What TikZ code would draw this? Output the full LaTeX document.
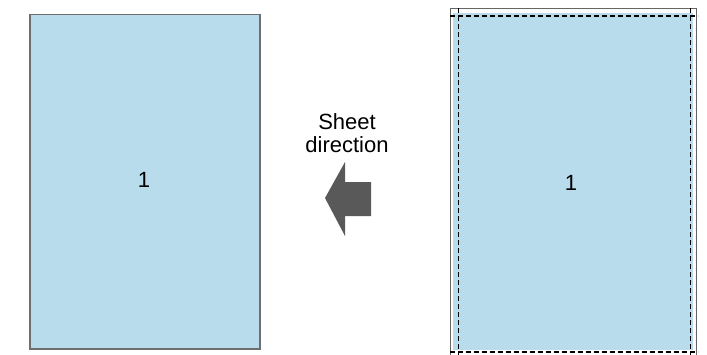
\documentclass[tikz,border=0pt]{standalone}
\usepackage{fontspec}
\setmainfont{Liberation Sans}
\definecolor{sheetblue}{RGB}{184,220,236}
\definecolor{framegray}{RGB}{110,110,110}
\definecolor{arrowgray}{RGB}{89,89,89}
\begin{document}
\begin{tikzpicture}[x=1pt,y=-1pt,
  sheet/.style={fill=sheetblue,draw=framegray,line width=1.2pt},
  cutline/.style={draw=black,line width=1.1pt,dash pattern=on 5pt off 3pt},
  lbl/.style={font=\fontsize{22}{23}\selectfont,align=center,inner sep=0pt}]
\useasboundingbox (0,0) rectangle (707,354);
% left sheet
\draw[sheet] (30,14.5) rectangle (260,349);
\node[lbl] (l1) at (144,180) {1};
% right sheet
\fill[sheetblue] (453,13) rectangle (693,350);
\draw[draw=gray!80!black,line width=0.8pt] (450.5,358) -- (450.5,8.7) -- (696,8.7) -- (696,358);
\coordinate (tl) at (450,16);
\coordinate (tr) at (698,16);
\coordinate (bl) at (450,352);
\coordinate (br) at (698,352);
\coordinate (vl1) at (458.5,8);
\coordinate (vl2) at (458.5,356);
\coordinate (vr1) at (690.5,8);
\coordinate (vr2) at (690.5,356);
\draw[cutline] (tl) -- (tr);
\draw[cutline] (bl) -- (br);
\draw[cutline] (vl1) -- (vl2);
\draw[cutline] (vr1) -- (vr2);
\node[lbl] (r1) at (571,183) {1};
% direction label and arrow
\node[lbl] (txt) at (347,133) {Sheet\\direction};
\fill[arrowgray] (325,198) -- (345,162) -- (345,182) -- (371,182) -- (371,216) -- (345,216) -- (345,236) -- cycle;
\end{tikzpicture}
\end{document}
